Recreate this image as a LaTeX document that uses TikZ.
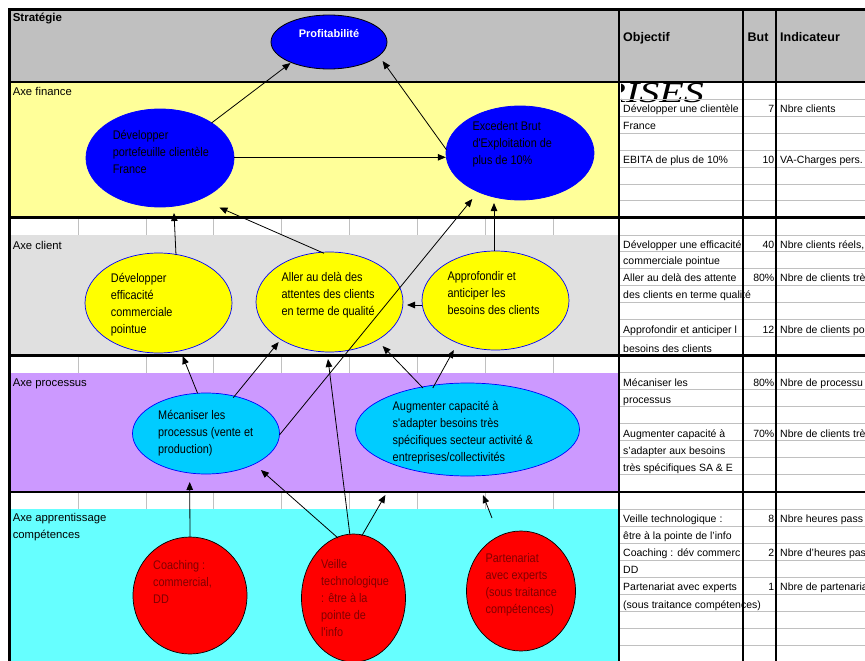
\documentclass[tikz,border=0pt]{standalone}
\usepackage{fontspec}
\setmainfont{Liberation Sans}
\newfontfamily\ellfont[FakeStretch=0.87]{Liberation Sans}
\newfontfamily\serifwide[FakeStretch=1.38]{Liberation Serif}
\usetikzlibrary{shapes.geometric,arrows.meta,calc}

\definecolor{hdrgray}{HTML}{C0C0C0}
\definecolor{finyellow}{HTML}{FFFF99}
\definecolor{cligray}{HTML}{E0E0E0}
\definecolor{propurple}{HTML}{CC99FF}
\definecolor{appcyan}{HTML}{66FFFF}
\definecolor{gridgray}{HTML}{C0C0C0}
\definecolor{exblue}{HTML}{0000FF}
\definecolor{exyellow}{HTML}{FFFF00}
\definecolor{excyan}{HTML}{00CCFF}
\definecolor{exred}{HTML}{FF0000}
\definecolor{exdred}{HTML}{800000}

\tikzset{
  heavyrule/.style={line width=2.2pt, draw=black},
  gridl/.style={draw=gridgray, line width=0.9pt},
  ell/.style={ellipse, inner sep=0pt, outer sep=0pt},
  finell/.style={ell, fill=exblue, draw=exblue, line width=0.8pt},
  topell/.style={ell, fill=exblue, draw=black, line width=0.8pt},
  cliell/.style={ell, fill=exyellow, draw=exblue, line width=0.7pt},
  proell/.style={ell, fill=excyan, draw=exblue, line width=0.7pt},
  appell/.style={ell, fill=exred, draw=black, line width=0.7pt},
  etxt/.style={anchor=west, align=left, inner sep=0pt,
    font=\ellfont\fontsize{12.5}{17}\selectfont},
  bandlab/.style={anchor=west, align=left, inner sep=0pt,
    font=\fontsize{11.3}{16.7}\selectfont},
  hdr/.style={anchor=base west, inner sep=0pt,
    font=\bfseries\fontsize{12.5}{14}\selectfont},
  cell/.style={anchor=base west, inner sep=0pt,
    font=\fontsize{10.5}{12}\selectfont},
  numcell/.style={anchor=base east, inner sep=0pt,
    font=\fontsize{10.5}{12}\selectfont},
  arr/.style={-{Triangle[length=8pt,width=6.5pt]}, line width=0.8pt, draw=black},
}

\begin{document}
\begin{tikzpicture}[x=1pt,y=-1pt]
\useasboundingbox (0,0) rectangle (865,661);
\clip (0,0) rectangle (865,661);

% ---- coloured bands of the strategy map ----
\fill[hdrgray] (9.5,9.5) rectangle (865,82);
\fill[finyellow] (9.5,82) rectangle (619,217.5);
\fill[cligray] (9.5,235) rectangle (619,355.5);
\fill[propurple] (9.5,372.6) rectangle (619,491.7);
\fill[appcyan] (9.5,509) rectangle (619,661);

% ---- spreadsheet cells between the bands ----
\foreach \gx in {78,146,213,281,349,417,485,553} {
  \draw[gridl] (\gx,217.5) -- (\gx,235);
  \draw[gridl] (\gx,355.5) -- (\gx,372.6);
  \draw[gridl] (\gx,491.7) -- (\gx,509);
}

% ---- stray heading fragment ----
\begin{scope}
  \clip (621,83.3) rectangle (760,112);
  \node[anchor=base east, inner sep=0pt, font=\serifwide\itshape\fontsize{29}{29}\selectfont]
    (frag) at (704,102.7) {RISES};
\end{scope}

% ---- table rows ----
\foreach \ry in {99.2,116.1,133.3,150.6,167.3,184.1,200.8,
                 235,251.7,268.4,285.1,302.2,319,336.6,
                 372.6,389.6,406.6,423.6,440.7,457.7,474.7,
                 509,526.1,543.2,560.2,577.3,594.4,611.5,628.6,645.6}
  \draw[gridl] (619,\ry) -- (865,\ry);

% ---- band labels ----
\node[anchor=west, inner sep=0pt, font=\bfseries\fontsize{11.5}{13}\selectfont] (lstrat) at (12.6,19) {Stratégie};
\node[bandlab] (lfin) at (12.6,91.7) {Axe finance};
\node[bandlab] (lcli) at (12.6,245) {Axe client};
\node[bandlab] (lpro) at (12.6,383.3) {Axe processus};
\node[bandlab] (lapp) at (12.6,527.3) {Axe apprentissage\\compétences};

% ---- table header ----
\node[hdr] (hobj) at (623,42) {Objectif};
\node[hdr] (hbut) at (747.5,42) {But};
\node[hdr] (hind) at (780,42) {Indicateur};

% ---- table body ----
% finance
\node[cell] (o1) at (623,112.6) {Développer une clientèle};
\node[numcell] (b1) at (774.5,112.6) {7};
\node[cell] (i1) at (780,112.6) {Nbre clients};
\node[cell] (o2) at (623,129.8) {France};
\node[cell] (o3) at (623,163.8) {EBITA de plus de 10\%};
\node[numcell] (b3) at (774.5,163.8) {10};
\node[cell] (i3) at (780,163.8) {VA-Charges pers.};
% client
\begin{scope}
  \clip (620,236) rectangle (742,252);
  \node[cell] (o4) at (623,248.2) {Développer une efficacité};
\end{scope}
\node[numcell] (b4) at (774.5,248.2) {40};
\node[cell] (i4) at (780,248.2) {Nbre clients réels,};
\node[cell] (o5) at (623,264.9) {commerciale pointue};
\begin{scope}
  \clip (620,269) rectangle (742,285);
  \node[cell] (o6) at (623,281.6) {Aller au delà des attente};
\end{scope}
\node[numcell] (b6) at (774.5,281.6) {80\%};
\node[cell] (i6) at (780,281.6) {Nbre de clients trè};
\node[cell] (o7) at (623,298.7) {des clients en terme qualité};
\begin{scope}
  \clip (620,319.5) rectangle (742,336.5);
  \node[cell] (o8) at (623,333.1) {Approfondir et anticiper l};
\end{scope}
\node[numcell] (b8) at (774.5,333.1) {12};
\node[cell] (i8) at (780,333.1) {Nbre de clients po};
\node[cell] (o9) at (623,352) {besoins des clients};
% processus
\node[cell] (o10) at (623,386.1) {Mécaniser les};
\node[numcell] (b10) at (774.5,386.1) {80\%};
\node[cell] (i10) at (780,386.1) {Nbre de processu};
\node[cell] (o11) at (623,403.1) {processus};
\node[cell] (o12) at (623,437.2) {Augmenter capacité à};
\node[numcell] (b12) at (774.5,437.2) {70\%};
\node[cell] (i12) at (780,437.2) {Nbre de clients trè};
\node[cell] (o13) at (623,454.2) {s'adapter aux besoins};
\node[cell] (o14) at (623,471.2) {très spécifiques SA \& E};
% apprentissage
\node[cell] (o15) at (623,522.6) {Veille technologique :};
\node[numcell] (b15) at (774.5,522.6) {8};
\node[cell] (i15) at (780,522.6) {Nbre heures pass};
\node[cell] (o16) at (623,539.7) {être à la pointe de l'info};
\begin{scope}
  \clip (620,543.5) rectangle (742,560);
  \node[cell] (o17) at (623,556.7) {Coaching : dév commerc};
\end{scope}
\node[numcell] (b17) at (774.5,556.7) {2};
\node[cell] (i17) at (780,556.7) {Nbre d'heures pas};
\node[cell] (o18) at (623,573.8) {DD};
\node[cell] (o19) at (623,590.9) {Partenariat avec experts};
\node[numcell] (b19) at (774.5,590.9) {1};
\node[cell] (i19) at (780,590.9) {Nbre de partenaria};
\node[cell] (o20) at (623,608) {(sous traitance compétences)};

% ---- heavy rules ----
\draw[heavyrule] (9.5,661) -- (9.5,9.5) -- (865,9.5);
\foreach \hy in {82,217.5,355.5,491.7}
  \draw[heavyrule] (9.5,\hy) -- (865,\hy);
\foreach \vx in {619,743,776}
  \draw[heavyrule] (\vx,9.5) -- (\vx,661);

% ---- objectives ----
\node[topell, minimum width=116pt, minimum height=54pt] (P) at (329,42) {};
\node[finell, minimum width=148pt, minimum height=98pt] (F1) at (160,158) {};
\node[finell, minimum width=148pt, minimum height=94pt] (F2) at (520,153) {};
\node[cliell, minimum width=147pt, minimum height=100pt] (C1) at (158.5,303) {};
\node[cliell, minimum width=147pt, minimum height=100pt] (C2) at (329.5,302) {};
\node[cliell, minimum width=147pt, minimum height=99pt] (C3) at (495.5,300.5) {};
\node[proell, minimum width=147pt, minimum height=81pt] (M1) at (206,433.5) {};
\node[proell, minimum width=224pt, minimum height=93pt] (M2) at (467.5,429.5) {};
\node[appell, minimum width=114pt, minimum height=117pt] (A1) at (190,595.5) {};
\node[appell, minimum width=104pt, minimum height=128pt] (A2) at (353.5,598) {};
\node[appell, minimum width=109pt, minimum height=120pt] (A3) at (521,591) {};

\node[inner sep=0pt, text=white, font=\bfseries\fontsize{11}{13}\selectfont] (Pt) at (329,34) {Profitabilité};
\node[etxt] (F1t) at (112.6,152.2) {Développer\\portefeuille clientèle\\France};
\node[etxt] (F2t) at (472.3,143.9) {Excedent Brut\\d'Exploitation de\\plus de 10\%};
\node[etxt] (C1t) at (110.7,304.2) {Développer\\efficacité\\commerciale\\pointue};
\node[etxt] (C2t) at (281.4,295) {Aller au delà des\\attentes des clients\\en terme de qualité};
\node[etxt] (C3t) at (447.4,293) {Approfondir et\\anticiper les\\besoins des clients};
\node[etxt] (M1t) at (158,432.8) {Mécaniser les\\processus (vente et\\production)};
\node[etxt] (M2t) at (392.5,432.5) {Augmenter capacité à\\s'adapter besoins très\\spécifiques secteur activité \&\\entreprises/collectivités};
\node[etxt, text=exdred] (A1t) at (153,581.7) {Coaching :\\commercial,\\DD};
\node[etxt, text=exdred] (A2t) at (321,597.7) {Veille\\technologique\\: être à la\\pointe de\\l'info};
\node[etxt, text=exdred] (A3t) at (485.4,584.4) {Partenariat\\avec experts\\(sous traitance\\compétences)};

% ---- cause and effect links ----
\draw[arr] ($(F1)+(51.5,-35)$) -- ($(P)+(-38.5,21)$);
\draw[arr] ($(F2)+(-73.4,-3)$) -- ($(P)+(53.6,19)$);
\draw[arr] ($(F1)+(74,-0.7)$) -- ($(F2)+(-74.2,4.3)$);
\draw[arr] ($(C1)+(17.5,-48)$) -- ($(F1)+(14,55)$);
\draw[arr] ($(C2)+(-5.5,-48.7)$) -- ($(F1)+(59.4,49.5)$);
\draw[arr] ($(C3)+(-1.5,-49.5)$) -- ($(F2)+(-26,50)$);
\draw[arr] ($(M1)+(73.4,1.5)$) -- ($(F2)+(-47.7,46)$);
\draw[arr] ($(C3)+(-73.5,4.5)$) -- ($(C2)+(77.5,3)$);
\draw[arr] ($(M1)+(-8.4,-40.2)$) -- ($(C1)+(24.1,53)$);
\draw[arr] ($(M1)+(27.2,-35.8)$) -- ($(C2)+(-50.8,40)$);
\draw[arr] ($(A2)+(-3.7,-64)$) -- ($(C2)+(-1.5,57)$);
\draw[arr] ($(M2)+(-44.5,-41.5)$) -- ($(C2)+(53.1,44)$);
\draw[arr] ($(M2)+(-34.7,-41.5)$) -- ($(C3)+(-41.7,49.5)$);
\draw[arr] ($(A1)+(0,-58.5)$) -- ($(M1)+(-16.3,48.5)$);
\draw[arr] ($(A2)+(-15.5,-60)$) -- ($(M1)+(54.9,36.5)$);
\draw[arr] ($(A2)+(8.2,-62)$) -- ($(M2)+(-82.1,65.5)$);
\coordinate (pa) at (492,518);
\coordinate (pb) at (483,495);
\draw[arr] (pa) -- (pb);
\end{tikzpicture}
\end{document}
